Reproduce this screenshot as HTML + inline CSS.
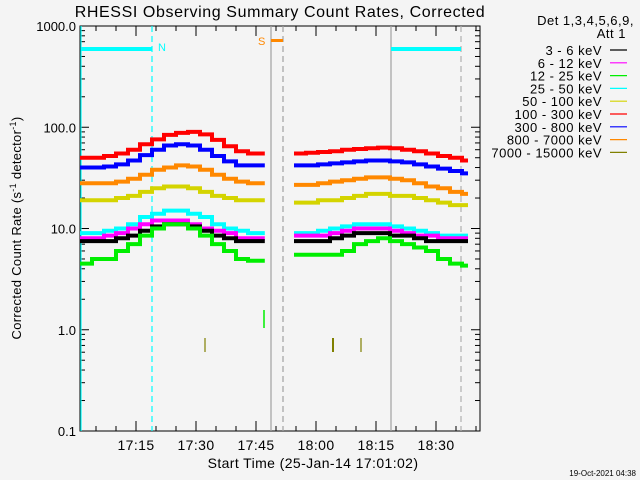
<!DOCTYPE html>
<html><head><meta charset="utf-8"><style>
body{margin:0;background:#f4f4f4;}
svg{display:block;font-family:"Liberation Sans",sans-serif;}
</style></head><body>
<svg id="chart" width="640" height="480" xmlns="http://www.w3.org/2000/svg">
<rect width="640" height="480" fill="#f4f4f4"/>
<text x="280" y="17" font-size="16" text-anchor="middle" fill="#000" letter-spacing="0.6">RHESSI Observing Summary Count Rates, Corrected</text>
<g id="axes"></g>
<g id="series"></g>
<g id="legend" font-size="13" fill="#000" text-anchor="end" letter-spacing="0.5"></g>
<text x="313" y="468" font-size="14" text-anchor="middle" letter-spacing="0.4">Start Time (25-Jan-14 17:01:02)</text>
<text transform="translate(21,228) rotate(-90)" font-size="13" text-anchor="middle" letter-spacing="0.3">Corrected Count Rate (s<tspan font-size="9" dy="-5">-1</tspan><tspan dy="5"> detector</tspan><tspan font-size="9" dy="-5">-1</tspan><tspan dy="5">)</tspan></text>
<text x="636" y="476" font-size="8" text-anchor="end">19-Oct-2021 04:38</text>
</svg>
<script>
const seriesNames=["3 - 6 keV","6 - 12 keV","12 - 25 keV","25 - 50 keV","50 - 100 keV","100 - 300 keV","300 - 800 keV","800 - 7000 keV","7000 - 15000 keV"];
const seriesColors=["#000000","#ff00ff","#00ee00","#00ffff","#d4d400","#ff0000","#0000ff","#ff8800","#808000"];
const seg1Times=[0,3,6,9,12,15,18,21,24,27,30,33,36,39,42,45];
const seg2Times=[53,56,59,62,65,68,71,74,77,80,83,86,89,92,95];
const red1=[50,50,52,55,60,68,76,84,88,90,85,75,65,58,55,55];
const red2=[55,56,57,58,60,61,62,63,62,60,58,55,52,50,47];
const blue1=[40,40,41,43,47,53,60,66,68,66,60,52,46,42,42,42];
const blue2=[42,42,43,44,45,46,47,47,46,45,43,41,39,37,35];
const orange1=[28,28,28,29,31,34,38,40,42,41,38,34,31,29,28,28];
const orange2=[27,27,28,29,30,31,32,32,31,30,28,26,25,23,22];
const yellow1=[19,19,19,20,21,23,25,26,26,25,23,21,20,19,19,19];
const yellow2=[18,18,19,19,20,21,22,22,21,21,20,19,18,17,17];
const cyan1=[9,9,9.5,10,11,13,14,15,15,14,13,11,10,9.5,9,9];
const cyan2=[9,9,9.5,10,10.5,11,11,11,10.5,10,9.5,9,8.5,8.5,8.5];
const magenta1=[8,8,8.5,9,10,11,12,12,12,11,10,9.5,9,8,8,8];
const magenta2=[8.5,8.5,8.5,9,9.5,10,10,10,9.5,9,8.5,8.5,8,8,8];
const black1=[7.5,7.5,7.5,8,8.5,9.5,10.5,11,11,10.5,9.5,8.5,8,7.5,7.5,7.5];
const black2=[7.5,7.5,7.5,8,8.5,9,9,9,8.5,8.5,8,7.5,7.5,7.5,7.5];
const green1=[4.5,5,5,6,7,8.5,10,11,11,10,8.5,7,6,5,4.8,4.8];
const green2=[5.5,5.5,5.5,5.5,6,7,7.5,8,7.5,7,6.5,6,5,4.5,4.3];
const yTickLabels=["1000.0","100.0","10.0","1.0","0.1"];
const yTickValues=[1000,100,10,1,0.1];
const xTickLabels=["17:15","17:30","17:45","18:00","18:15","18:30"];
const xTickMinutes=[14,29,44,59,74,89];

const NS="http://www.w3.org/2000/svg";
const X0=80,X1=480,Y0=26,Y1=431;
function xs(m){return X0+m*4;}
function ys(v){return Y1-(Math.log10(v)+1)*(Y1-Y0)/4;}
function mk(tag,attrs,parent){const e=document.createElementNS(NS,tag);for(const k in attrs)e.setAttribute(k,attrs[k]);parent.appendChild(e);return e;}
const axes=document.getElementById('axes');
let frame=mk('rect',{x:X0,y:Y0,width:X1-X0,height:Y1-Y0,fill:'none',stroke:'#000','stroke-width':1},axes);


for(let d=-1;d<=3;d++){for(let k=1;k<10;k++){const v=k*Math.pow(10,d);if(v>1000)break;const y=ys(v);const L=k===1?9:5;
mk('line',{x1:X0,y1:y,x2:X0+L,y2:y,stroke:'#000'},axes);mk('line',{x1:X1,y1:y,x2:X1-L,y2:y,stroke:'#000'},axes);}}
yTickValues.forEach((v,i)=>{const t=mk('text',{x:76,y:ys(v)+5,'font-size':13,'text-anchor':'end'},axes);t.textContent=yTickLabels[i];

});
for(let m=-1;m<=100;m+=5){const x=xs(m);if(x<X0||x>X1)continue;const major=((m+1)%15===0);const L=major?10:5;
mk('line',{x1:x,y1:Y1,x2:x,y2:Y1-L,stroke:'#000'},axes);mk('line',{x1:x,y1:Y0,x2:x,y2:Y0+L,stroke:'#000'},axes);}
xTickMinutes.forEach((m,i)=>{const t=mk('text',{x:xs(m),y:450,'font-size':14,'text-anchor':'middle','letter-spacing':0.4},axes);t.textContent=xTickLabels[i];

});
const g=document.getElementById('series');
function vline(x,col,dash,name){const l=mk('line',{x1:x,y1:Y0,x2:x,y2:Y1,stroke:col,'stroke-width':1.2},g);if(dash)l.setAttribute('stroke-dasharray','6,4');

}
vline(81,'#00ffff',false,'night-end-line');vline(152,'#00ffff',true,'night-start-line');
vline(271,'#a0a0a0',false,'saa-start-line');vline(283,'#a0a0a0',true,'saa-end-line');
vline(391,'#a0a0a0',false,'night-start-line-2');vline(461,'#b0b0b0',true,'night-end-line-2');
mk('rect',{x:81,y:47,width:71,height:4,fill:'#00ffff'},g);mk('rect',{x:391,y:47,width:70,height:4,fill:'#00ffff'},g);
let nt=mk('text',{x:158,y:51,'font-size':11,fill:'#00ffff'},g);nt.textContent='N';
mk('rect',{x:271,y:39,width:12,height:3,fill:'#ff8800'},g);
let st=mk('text',{x:258,y:45,'font-size':11,fill:'#ff8800'},g);st.textContent='S';
mk('line',{x1:264,y1:310,x2:264,y2:328,stroke:'#00ee00','stroke-width':1.5},g);
[205,333,361].forEach(x=>mk('line',{x1:x,y1:338,x2:x,y2:352,stroke:'#808000','stroke-width':x===333?2:1.2},g));
const data=[[black1,black2],[magenta1,magenta2],[green1,green2],[cyan1,cyan2],[yellow1,yellow2],[red1,red2],[blue1,blue2],[orange1,orange2]];
const drawOrder=[5,6,7,4,3,1,0,2];
drawOrder.forEach(si=>{[[seg1Times,data[si][0]],[seg2Times,data[si][1]]].forEach(([ts,vs])=>{
let d='';ts.forEach((t,i)=>{const x=xs(t+(ts===seg1Times?0:0.5)),y=ys(vs[i]);if(i===0)d+='M'+x+','+y;else d+='H'+x+'V'+y;});
d+='H'+xs(ts[ts.length-1]+(ts===seg1Times?1.2:2));
const p=mk('path',{d:d,fill:'none',stroke:seriesColors[si],'stroke-width':4},g);

});});
const lg=document.getElementById('legend');
let h1=mk('text',{x:634,y:25},lg);h1.textContent='Det 1,3,4,5,6,9,';
let h2=mk('text',{x:626,y:38},lg);h2.textContent='Att 1';
seriesNames.forEach((n,i)=>{const y=55+i*12.8;const t=mk('text',{x:602,y:y},lg);t.textContent=n;


mk('line',{x1:610,y1:y-5,x2:627,y2:y-5,stroke:seriesColors[i],'stroke-width':1.2},lg);});
</script>
</body></html>
